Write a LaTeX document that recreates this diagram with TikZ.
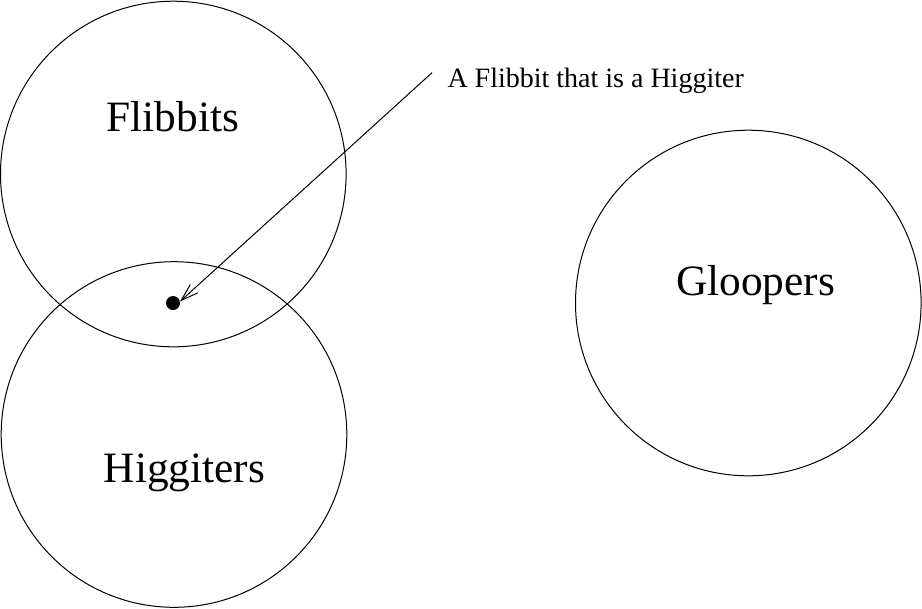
\documentclass[tikz,border=0pt]{standalone}
\usepackage{fontspec}
\setmainfont{Liberation Serif}
\usetikzlibrary{arrows.meta}

\tikzset{every picture/.style={line width=0.75pt}}
\tikzset{
  setcircle/.style={draw, circle, inner sep=0pt, outer sep=0pt, minimum size=259.2pt},
  biglabel/.style={anchor=base, inner sep=0pt, font=\fontsize{32.5}{39}\selectfont},
  smalllabel/.style={anchor=base west, inner sep=0pt, font=\fontsize{21}{25}\selectfont}
}

\begin{document}
\begin{tikzpicture}[x=0.75pt,y=0.75pt,yscale=-1,xscale=1]
  \useasboundingbox (0,0) rectangle (922,608);

  %Shape: Circle [Flibbits]
  \node [setcircle] (flibbits) at (173.3,174) {};
  %Shape: Circle [Higgiters]
  \node [setcircle] (higgiters) at (174,434.5) {};
  %Shape: Circle [Gloopers]
  \node [setcircle] (gloopers) at (748.3,303) {};
  %Shape: Dot
  \node [circle, fill=black, inner sep=0pt, minimum size=10.5pt] (dot) at (173,303) {};

  % Text Node
  \node [biglabel] (flibbitslabel) at (173,131.5) {Flibbits};
  % Text Node
  \node [biglabel] (higgiterslabel) at (184.5,482.5) {Higgiters};
  % Text Node
  \node [biglabel] (glooperslabel) at (755.5,295.7) {Gloopers};
  % Text Node
  \node [smalllabel] (memberlabel) at (447,87.3) {A Flibbit that is a Higgiter};

  %Straight Lines [arrow]
  \coordinate (tail) at (432,72.7);
  \coordinate (tip) at (180,301.5);
  \draw [-{Straight Barb[length=13pt,width=8.4pt]}] (tail) -- (tip);
\end{tikzpicture}
\end{document}
